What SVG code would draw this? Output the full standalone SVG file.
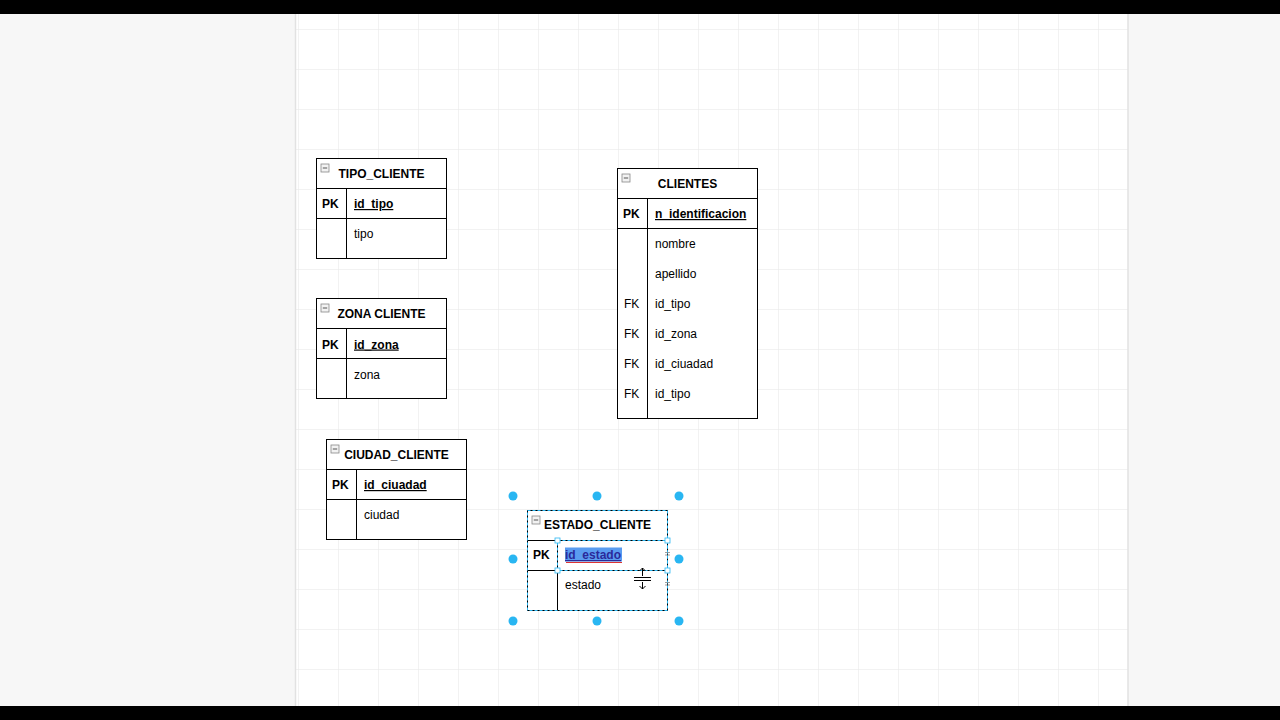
<svg xmlns="http://www.w3.org/2000/svg" width="1280" height="720" viewBox="0 0 1280 720">
<defs>
<pattern id="grid" x="298" y="29" width="40" height="40" patternUnits="userSpaceOnUse">
<path d="M0 0H40M0 0V40" fill="none" stroke="#e6e6e6" stroke-width="1"/>
</pattern>
<g id="collapse">
<rect x="0" y="0" width="8" height="8" fill="#f2f2f2" stroke="#888" stroke-width="0.8"/>
<path d="M1.8 4H6.2" stroke="#555" stroke-width="1"/>
</g>
</defs>
<style>
.tb{fill:#ffffff;stroke:#000;stroke-width:1}
.ln{stroke:#000;stroke-width:1;fill:none}
.hd{font-family:"Liberation Sans",Arial,sans-serif;font-size:12px;font-weight:bold;fill:#000;text-anchor:middle}
.pk{font-family:"Liberation Sans",Arial,sans-serif;font-size:12px;font-weight:bold;fill:#000}
.pkf{font-family:"Liberation Sans",Arial,sans-serif;font-size:12px;font-weight:bold;fill:#000;text-decoration:underline}
.f{font-family:"Liberation Sans",Arial,sans-serif;font-size:12px;fill:#000}
.h{fill:#29b6f2}
.sq{fill:#fff;stroke:#29b6f2;stroke-width:0.8}
</style>
<rect x="0" y="0" width="1280" height="720" fill="#f7f7f7"/>
<rect x="295" y="14" width="833" height="692" fill="#ffffff"/>
<rect x="295" y="14" width="833" height="692" fill="url(#grid)"/>
<path d="M295.5 14V706M1128 14V706" stroke="#e2e2e2" stroke-width="1.5"/>
<rect x="0" y="0" width="1280" height="14" fill="#000"/>
<rect x="0" y="706" width="1280" height="14" fill="#000"/>

<g id="tipo_cliente">
<rect class="tb" x="316.5" y="158.5" width="130" height="100"/>
<path class="ln" d="M316.5 188.5H446.5M316.5 218.5H446.5M346.5 188.5V258.5"/>
<use href="#collapse" x="321" y="164"/>
<text class="hd" x="381.5" y="177.5">TIPO_CLIENTE</text>
<text class="pk" x="322" y="208">PK</text>
<text class="pkf" x="354" y="208">id_tipo</text>
<text class="f" x="354" y="238">tipo</text>
</g>

<g id="zona_cliente">
<rect class="tb" x="316.5" y="298.5" width="130" height="100"/>
<path class="ln" d="M316.5 328.5H446.5M316.5 358.5H446.5M346.5 328.5V398.5"/>
<use href="#collapse" x="321" y="304"/>
<text class="hd" x="381.5" y="318">ZONA CLIENTE</text>
<text class="pk" x="322" y="348.5">PK</text>
<text class="pkf" x="354" y="348.5">id_zona</text>
<text class="f" x="354" y="378.5">zona</text>
</g>

<g id="ciudad_cliente">
<rect class="tb" x="326.5" y="439.5" width="140" height="100"/>
<path class="ln" d="M326.5 469.5H466.5M326.5 499.5H466.5M356.5 469.5V539.5"/>
<use href="#collapse" x="331" y="445"/>
<text class="hd" x="396.5" y="458.5">CIUDAD_CLIENTE</text>
<text class="pk" x="332" y="489">PK</text>
<text class="pkf" x="364" y="489">id_ciuadad</text>
<text class="f" x="364" y="519">ciudad</text>
</g>

<g id="clientes">
<rect class="tb" x="617.5" y="168.5" width="140" height="250"/>
<path class="ln" d="M617.5 198.5H757.5M617.5 228.5H757.5M647.5 198.5V418.5"/>
<use href="#collapse" x="622" y="174"/>
<text class="hd" x="687.5" y="188">CLIENTES</text>
<text class="pk" x="623" y="218">PK</text>
<text class="pkf" x="655" y="218">n_identificacion</text>
<text class="f" x="655" y="248">nombre</text>
<text class="f" x="655" y="278">apellido</text>
<text class="f" x="624" y="308">FK</text>
<text class="f" x="655" y="308">id_tipo</text>
<text class="f" x="624" y="338">FK</text>
<text class="f" x="655" y="338">id_zona</text>
<text class="f" x="624" y="368">FK</text>
<text class="f" x="655" y="368">id_ciuadad</text>
<text class="f" x="624" y="398">FK</text>
<text class="f" x="655" y="398">id_tipo</text>
</g>

<g id="estado_cliente">
<rect class="tb" x="527.5" y="510.5" width="140" height="100"/>
<path class="ln" d="M527.5 540.5H667.5M527.5 570.5H667.5M557.5 540.5V610.5"/>
<rect x="527.5" y="510.5" width="140" height="100" fill="none" stroke="#29b6f2" stroke-width="1" stroke-dasharray="3 2"/>
<use href="#collapse" x="532" y="516"/>
<text class="hd" x="597.5" y="529">ESTADO_CLIENTE</text>
<text class="pk" x="533" y="559">PK</text>
<rect x="565" y="547.5" width="57" height="14" fill="#5a9cf0"/>
<text class="pkf" x="565" y="559" style="fill:#2a2a9a">id_estado</text>
<path d="M566 562.5H622" stroke="#d33" stroke-width="1"/>
<text class="f" x="565" y="589">estado</text>
<rect x="557.5" y="540.5" width="110" height="30" fill="none" stroke="#29b6f2" stroke-width="1" stroke-dasharray="3 2"/>
<rect class="sq" x="555" y="538" width="5" height="5"/>
<rect class="sq" x="665" y="538" width="5" height="5"/>
<rect class="sq" x="555" y="568" width="5" height="5"/>
<rect class="sq" x="665" y="568" width="5" height="5"/>
<path d="M665 552.5H670M665 555H670M665 582.5H670M665 585H670" stroke="#888" stroke-width="0.8"/>
<path d="M634 577.5H651M634 580.5H651M642.5 568V576M639.5 571L642.5 568L645.5 571M642.5 582V589M639.5 586L642.5 589L645.5 586" stroke="#000" stroke-width="1" fill="none"/>
</g>

<g id="selection_handles">
<circle class="h" cx="513" cy="496" r="4.5"/>
<circle class="h" cx="597" cy="496" r="4.5"/>
<circle class="h" cx="679" cy="496" r="4.5"/>
<circle class="h" cx="513" cy="559" r="4.5"/>
<circle class="h" cx="679" cy="559" r="4.5"/>
<circle class="h" cx="513" cy="621" r="4.5"/>
<circle class="h" cx="597" cy="621" r="4.5"/>
<circle class="h" cx="679" cy="621" r="4.5"/>
</g>

<g id="connectors"></g>
</svg>
